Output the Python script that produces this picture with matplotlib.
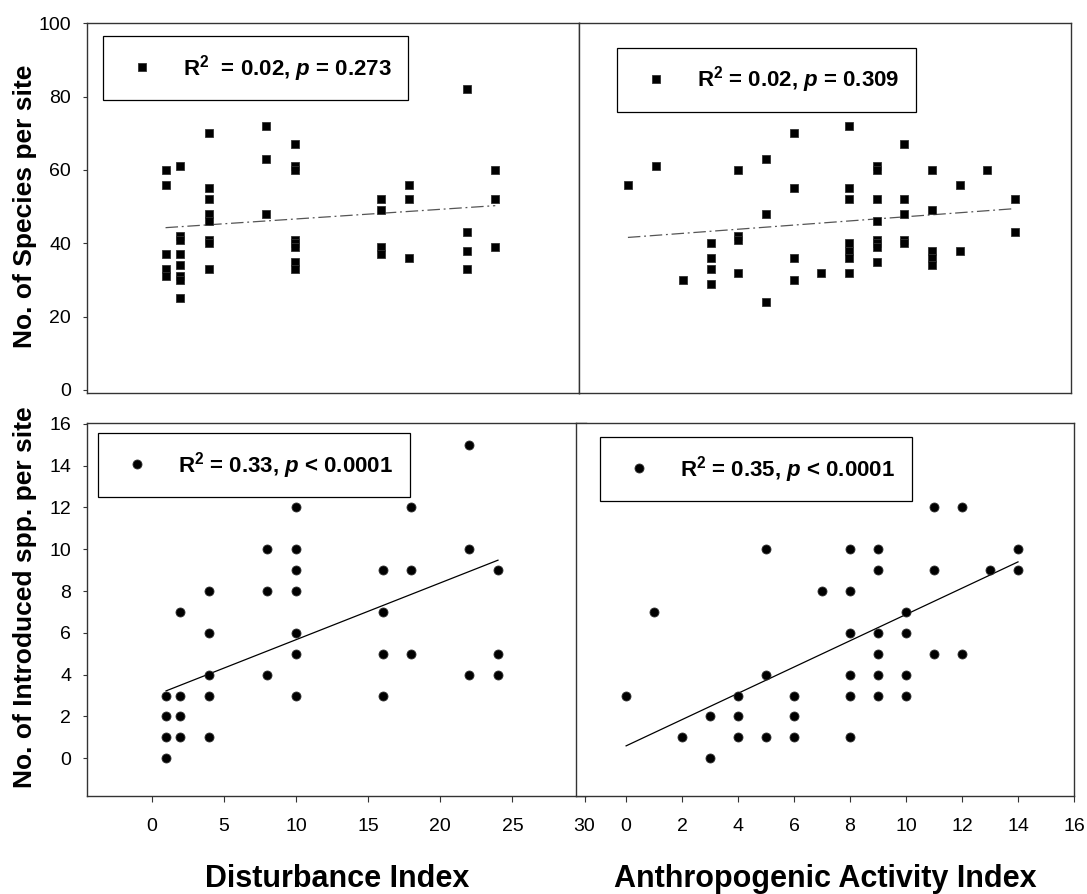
import numpy as np
import matplotlib.pyplot as plt

plt.rcParams['font.family'] = ['Liberation Sans', 'DejaVu Sans']
plt.rcParams['mathtext.fontset'] = 'custom'
plt.rcParams['mathtext.rm'] = 'Liberation Sans:bold'
plt.rcParams['mathtext.it'] = 'Liberation Sans:italic:bold'
plt.rcParams['mathtext.bf'] = 'Liberation Sans:bold'

W, H = 1087, 894

# species per site vs disturbance index
dist_sp_x = [1, 1, 1, 1, 1,
             2, 2, 2, 2, 2, 2, 2, 2,
             4, 4, 4, 4, 4, 4, 4, 4,
             8, 8, 8,
             10, 10, 10, 10, 10, 10, 10, 10,
             16, 16, 16, 16,
             18, 18, 18,
             22, 22, 22, 22,
             24, 24, 24]
dist_sp_y = [60, 56, 37, 33, 31,
             61, 42, 41, 37, 34, 31, 30, 25,
             70, 55, 52, 48, 46, 41, 40, 33,
             72, 63, 48,
             67, 61, 60, 41, 40, 39, 35, 33,
             52, 49, 39, 37,
             56, 52, 36,
             82, 43, 38, 33,
             60, 52, 39]

# species per site vs anthropogenic activity index
anth_sp_x = [0, 1, 2,
             3, 3, 3, 3,
             4, 4, 4, 4,
             5, 5, 5,
             6, 6, 6, 6,
             7,
             8, 8, 8, 8, 8, 8, 8,
             9, 9, 9, 9, 9, 9, 9, 9,
             10, 10, 10, 10, 10,
             11, 11, 11, 11, 11,
             12, 12, 13, 14, 14]
anth_sp_y = [56, 61, 30,
             40, 36, 33, 29,
             60, 42, 41, 32,
             63, 48, 24,
             70, 55, 36, 30,
             32,
             72, 55, 52, 40, 38, 36, 32,
             61, 60, 52, 46, 41, 40, 39, 35,
             67, 52, 48, 41, 40,
             60, 49, 38, 36, 34,
             56, 38, 60, 52, 43]

# introduced spp. per site vs disturbance index
dist_int_x = [1, 1, 1, 1,
              2, 2, 2, 2,
              4, 4, 4, 4, 4,
              8, 8, 8,
              10, 10, 10, 10, 10, 10, 10,
              16, 16, 16, 16,
              18, 18, 18,
              22, 22, 22,
              24, 24, 24]
dist_int_y = [3, 2, 1, 0,
              7, 3, 2, 1,
              8, 6, 4, 3, 1,
              10, 8, 4,
              12, 10, 9, 8, 6, 5, 3,
              9, 7, 5, 3,
              12, 9, 5,
              15, 10, 4,
              9, 5, 4]

# introduced spp. per site vs anthropogenic activity index
anth_int_x = [0, 1, 2, 3, 3,
              4, 4, 4, 5, 5, 5,
              6, 6, 6, 7,
              8, 8, 8, 8, 8, 8,
              9, 9, 9, 9, 9, 9,
              10, 10, 10, 10,
              11, 11, 11, 12, 12, 13, 14, 14]
anth_int_y = [3, 7, 1, 2, 0,
              3, 2, 1, 10, 4, 1,
              3, 2, 1, 8,
              10, 8, 6, 4, 3, 1,
              10, 9, 6, 5, 4, 3,
              7, 6, 4, 3,
              12, 9, 5, 12, 5, 9, 10, 9]

# regression lines (intercept, slope) and legend texts
fit_dist_sp = (44.0, 0.261)
fit_anth_sp = (41.6, 0.561)
fit_dist_int = (2.95, 0.272)
fit_anth_int = (0.59, 0.629)

label_dist_sp = r'R$^2$  = 0.02, $p$ = 0.273'
label_anth_sp = r'R$^2$ = 0.02, $p$ = 0.309'
label_dist_int = r'R$^2$ = 0.33, $p$ < 0.0001'
label_anth_int = r'R$^2$ = 0.35, $p$ < 0.0001'

dist_ticks = [0, 5, 10, 15, 20, 25, 30]
anth_ticks = [0, 2, 4, 6, 8, 10, 12, 14, 16]
sp_ticks = [0, 20, 40, 60, 80, 100]
int_ticks = [0, 2, 4, 6, 8, 10, 12, 14, 16]


def px_axes(fig, left, top, right, bottom):
    return fig.add_axes([left / W, 1 - bottom / H, (right - left) / W, (bottom - top) / H])


def draw_panel(ax, x, y, marker, ms, fit, ls, lc, label, legend_xy):
    ax.plot(x, y, linestyle='none', marker=marker, ms=ms, color='black',
            mec='#333333', mew=0.6, label=label, zorder=3)
    xs = np.array([min(x), max(x)])
    ax.plot(xs, fit[0] + fit[1] * xs, linestyle=ls, color=lc, lw=0.9, zorder=2)
    leg = ax.legend(loc='upper left', bbox_to_anchor=legend_xy, borderaxespad=0,
                    fancybox=False, framealpha=1, edgecolor='black',
                    borderpad=0.75, handlelength=2.0, handletextpad=0.85,
                    numpoints=1, prop={'size': 16, 'weight': 'bold'})
    leg.get_frame().set_linewidth(0.9)
    for s in ax.spines.values():
        s.set_color('#333333')
        s.set_linewidth(1.0)


fig = plt.figure(figsize=(W / 100, H / 100), dpi=100)

ax_tl = px_axes(fig, 86.7, 22.7, 579, 393.3)
ax_tr = px_axes(fig, 579, 22.7, 1071, 393.3)
ax_bl = px_axes(fig, 86.7, 423.3, 586, 796)
ax_br = px_axes(fig, 576, 423.3, 1074, 796)

dashdot = (0, (10, 3, 1.5, 3))
draw_panel(ax_tl, dist_sp_x, dist_sp_y, 's', 5.5, fit_dist_sp, dashdot, '#555555',
           label_dist_sp, (0.033, 0.964))
draw_panel(ax_tr, anth_sp_x, anth_sp_y, 's', 5.5, fit_anth_sp, dashdot, '#555555',
           label_anth_sp, (0.077, 0.932))
draw_panel(ax_bl, dist_int_x, dist_int_y, 'o', 6.5, fit_dist_int, '-', 'black',
           label_dist_int, (0.023, 0.974))
draw_panel(ax_br, anth_int_x, anth_int_y, 'o', 6.5, fit_anth_int, '-', 'black',
           label_anth_int, (0.048, 0.963))

ax_tl.set_xlim(-4.5, 29.84)
ax_tr.set_xlim(-1.77, 16.03)
ax_bl.set_xlim(-4.5, 30.1)
ax_br.set_xlim(-1.79, 16.0)
ax_tl.set_ylim(-0.9, 100.15)
ax_tr.set_ylim(-0.9, 100.15)
ax_bl.set_ylim(-1.81, 16.03)
ax_br.set_ylim(-1.81, 16.03)

ax_bl.spines['right'].set_visible(False)

for ax in (ax_tl, ax_tr):
    ax.set_xticks([])
for ax in (ax_tr, ax_br):
    ax.set_yticks([])

ax_tl.set_yticks(sp_ticks)
ax_bl.set_yticks(int_ticks)
ax_bl.set_xticks(dist_ticks)
ax_br.set_xticks(anth_ticks)

for ax in (ax_tl, ax_bl):
    ax.tick_params(axis='y', direction='out', length=3.2, width=0.8, pad=8,
                   labelsize=14, color='#333333')
for ax in (ax_bl, ax_br):
    ax.tick_params(axis='x', direction='out', length=4, width=0.8, pad=12,
                   labelsize=14, color='#333333')

fig.text(25 / W, 1 - 206 / H, 'No. of Species per site', rotation=90,
         ha='center', va='center', fontsize=19, fontweight='bold')
fig.text(25 / W, 1 - 597 / H, 'No. of Introduced spp. per site', rotation=90,
         ha='center', va='center', fontsize=19, fontweight='bold')
fig.text(337 / W, 1 - 887 / H, 'Disturbance Index', ha='center', va='baseline',
         fontsize=22, fontweight='bold')
fig.text(825 / W, 1 - 887 / H, 'Anthropogenic Activity Index', ha='center',
         va='baseline', fontsize=22, fontweight='bold')

fig.savefig('out.png', dpi=100)
